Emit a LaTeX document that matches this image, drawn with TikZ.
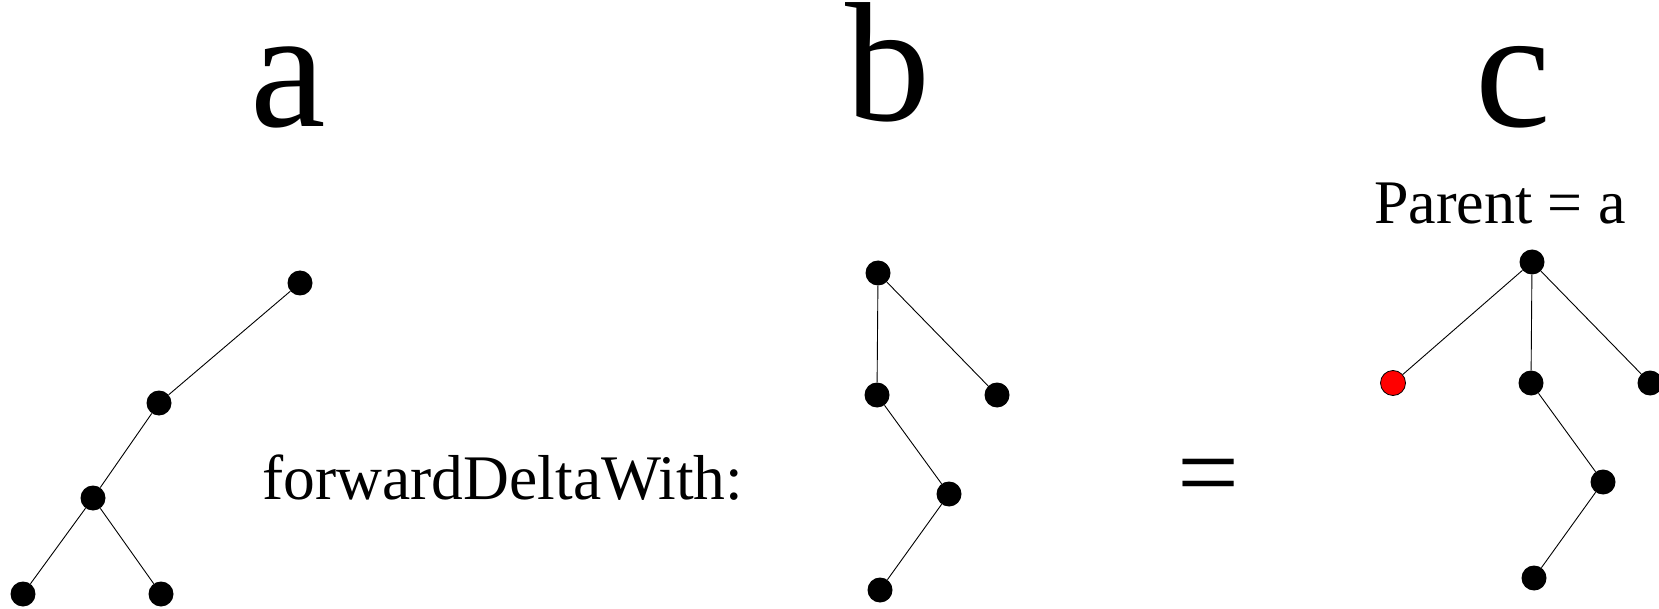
\documentclass[tikz,border=0pt]{standalone}
\usepackage{fontspec}
\setmainfont{Liberation Serif}
\begin{document}
\begin{tikzpicture}[x=1pt,y=-1pt,
  dot/.style={circle,fill=black,inner sep=0pt,minimum size=25pt},
  reddot/.style={dot,fill=red,draw=black,line width=0.8pt},
  edge/.style={draw=black,line width=0.9pt},
  bigletter/.style={font=\fontsize{170}{170}\selectfont,inner sep=0pt,anchor=base,text height=112pt,text depth=0pt},
  txt/.style={font=\fontsize{62}{62}\selectfont,inner sep=0pt,anchor=base}]
\fill[white] (0,0) rectangle (1659,609);
\useasboundingbox (0,0) rectangle (1659,609);
% titles
\node[bigletter] (ta) at (288,127) {a};
\node[bigletter] (tb) at (888,121) {b};
\node[bigletter] (tc) at (1513,127) {c};
\node[txt] (parent) at (1500,224) {Parent = a};
\node[txt,font=\fontsize{63.5}{63.5}\selectfont] (fdw) at (503,499) {forwardDeltaWith:};
\node[font=\fontsize{110}{110}\selectfont,inner sep=0pt] (eq) at (1209,484) {=};
% tree a
\node[dot] (a0) at (300,283) {};
\node[dot] (a1) at (159,403) {};
\node[dot] (a2) at (93,498) {};
\node[dot] (a3) at (23,594) {};
\node[dot] (a4) at (161,594) {};
\draw[edge] (a0) -- (a1) (a1) -- (a2) (a2) -- (a3) (a2) -- (a4);
% tree b
\node[dot] (b0) at (878,273) {};
\node[dot] (b1) at (877,395) {};
\node[dot] (b2) at (997,395) {};
\node[dot] (b3) at (949,494) {};
\node[dot] (b4) at (880,590) {};
\draw[edge] (b0) -- (b1) (b0) -- (b2) (b1) -- (b3) (b3) -- (b4);
% tree c
\node[dot] (c0) at (1532,262) {};
\node[reddot] (c1) at (1393,383) {};
\node[dot] (c2) at (1531,383) {};
\node[dot] (c3) at (1650,383) {};
\node[dot] (c4) at (1603,482) {};
\node[dot] (c5) at (1534,578) {};
\draw[edge] (c0) -- (c1) (c0) -- (c2) (c0) -- (c3) (c2) -- (c4) (c4) -- (c5);
\end{tikzpicture}
\end{document}
